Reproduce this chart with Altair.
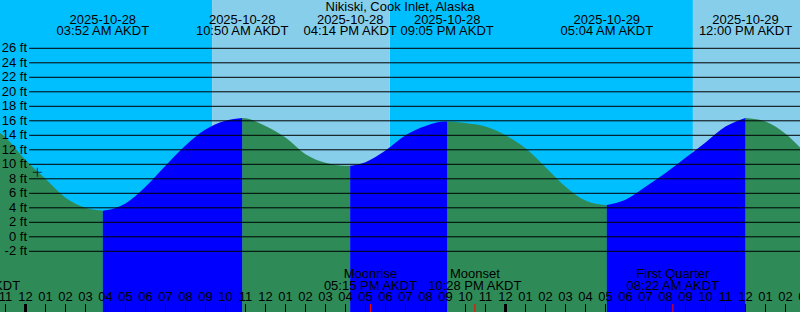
import altair as alt
import pandas as pd

W, H = 800, 312
FONT = "Liberation Sans"
FS = 13

TITLE = "Nikiski, Cook Inlet, Alaska"

# Time axis: hours from 2025-10-28 00:00 AKDT
X_DOMAIN = [-1.275, 38.725]
Y_DOMAIN = [-10.372, 32.662]   # feet

# Sky (sunrise / sunset, hours)
night_start = [-5.0, 18.22]
night_end = [9.33, 33.37]
day_start = [9.33, 33.37]
day_end = [18.22, 45.0]

# Tide curve (hours, feet)
tide_hours = [-2, -1, 0, 1, 2, 3, 3.867, 4, 5, 6, 7, 8, 9, 10, 10.833,
              11, 12, 13, 14, 15, 16, 16.233, 17, 18, 19, 20, 21, 21.083,
              22, 23, 24, 25, 26, 27, 28, 29, 29.067, 30, 31, 32, 33, 34,
              35, 36, 37, 38, 39]
tide_feet = [15.5, 13.7, 10.6, 8.0, 5.4, 4.0, 3.6, 3.65, 4.6, 6.9, 9.8, 12.6,
             14.8, 16.0, 16.4, 16.35, 15.3, 13.7, 11.4, 10.2, 9.8, 9.8, 10.3,
             11.9, 14.0, 15.3, 15.9, 15.9, 15.7, 15.2, 14.0, 12.2, 9.6, 6.9,
             5.0, 4.4, 4.4, 5.1, 6.9, 8.8, 10.9, 13.0, 15.2, 16.4, 15.9, 14.2,
             11.5]

# Tide events (high / low)
event_hours = [3.867, 10.833, 16.233, 21.083, 29.067, 36.0]
event_dates = ["2025-10-28", "2025-10-28", "2025-10-28", "2025-10-28",
               "2025-10-29", "2025-10-29"]
event_times = ["03:52 AM AKDT", "10:50 AM AKDT", "04:14 PM AKDT",
               "09:05 PM AKDT", "05:04 AM AKDT", "12:00 PM AKDT"]

# Moon events
moon_hours = [-2.6, 17.25, 22.467, 32.367]
moon_names = ["Moonset", "Moonrise", "Moonset", "First Quarter"]
moon_times = ["09:24 PM AKDT", "05:15 PM AKDT", "10:28 PM AKDT", "08:22 AM AKDT"]

# Current-time marker
now_hour = [0.59]
now_feet = [8.9]

# Grid levels and hour ticks
grid_feet = list(range(-2, 27, 2))
tick_hours = list(range(-2, 41))
tick_labels = ["%02d" % ((h % 12) or 12) for h in tick_hours]
midnight_hours = [0, 24]

# ---- build tables ----
bounds = [tide_hours[0]] + event_hours + [tide_hours[-1]]
kinds = ["ebb", "flood", "ebb", "flood", "ebb", "flood", "ebb"]
rows = []
for i in range(len(bounds) - 1):
    a, b = bounds[i], bounds[i + 1]
    for h, f in zip(tide_hours, tide_feet):
        if a <= h <= b:
            rows.append({"h": h, "ft": f, "seg": i, "kind": kinds[i]})
tide = pd.DataFrame(rows)

xs = alt.Scale(domain=X_DOMAIN, nice=False, zero=False)
ys = alt.Scale(domain=Y_DOMAIN, nice=False, zero=False)
X = lambda f: alt.X(f, scale=xs, axis=None)
Y = lambda f: alt.Y(f, scale=ys, axis=None)

night = alt.Chart(pd.DataFrame({"a": night_start, "b": night_end})).mark_rect(
    color="#00BFFF", clip=True).encode(x=X("a:Q"), x2="b:Q", y=alt.value(0), y2=alt.value(H))
day = alt.Chart(pd.DataFrame({"a": day_start, "b": day_end})).mark_rect(
    color="#87CEEB", clip=True).encode(x=X("a:Q"), x2="b:Q", y=alt.value(0), y2=alt.value(H))

ebb = alt.Chart(tide[tide.kind == "ebb"]).mark_area(
    color="#2E8B57", interpolate="monotone", clip=True).encode(
    x=X("h:Q"), y=alt.Y("ft:Q", scale=ys, axis=None, stack=None),
    y2=alt.value(H), detail="seg:N")
flood = alt.Chart(tide[tide.kind == "flood"]).mark_area(
    color="#0000FF", interpolate="monotone", clip=True).encode(
    x=X("h:Q"), y=alt.Y("ft:Q", scale=ys, axis=None, stack=None),
    y2=alt.value(H), detail="seg:N")

gdf = pd.DataFrame({"ft": grid_feet, "lab": [f"{v} ft" for v in grid_feet]})
grid = alt.Chart(gdf).mark_rule(color="black", strokeWidth=1).encode(
    y=Y("ft:Q"), x=alt.value(29), x2=alt.value(W))
grid_lab = alt.Chart(gdf).mark_text(
    align="right", baseline="middle", font=FONT, fontSize=FS, color="black").encode(
    y=Y("ft:Q"), x=alt.value(27), text="lab:N")

ev = pd.DataFrame({"h": event_hours, "d": event_dates, "t": event_times})
ev_d = alt.Chart(ev).mark_text(baseline="middle", font=FONT, fontSize=FS, color="black").encode(
    x=X("h:Q"), y=alt.value(19.5), text="d:N")
ev_t = alt.Chart(ev).mark_text(baseline="middle", font=FONT, fontSize=FS, color="black").encode(
    x=X("h:Q"), y=alt.value(31.3), text="t:N")

title = alt.Chart(pd.DataFrame({"t": [TITLE]})).mark_text(
    baseline="middle", font=FONT, fontSize=FS, color="black").encode(
    x=alt.value(W / 2), y=alt.value(7), text="t:N")

mn = pd.DataFrame({"h": moon_hours, "n": moon_names, "t": moon_times})
mn_n = alt.Chart(mn).mark_text(baseline="middle", font=FONT, fontSize=FS, color="black").encode(
    x=X("h:Q"), y=alt.value(274), text="n:N")
mn_t = alt.Chart(mn).mark_text(baseline="middle", font=FONT, fontSize=FS, color="black").encode(
    x=X("h:Q"), y=alt.value(286), text="t:N")
mn_tick = alt.Chart(mn).mark_rule(color="red", strokeWidth=1).encode(
    x=X("h:Q"), y=alt.value(304), y2=alt.value(H))

tk = pd.DataFrame({"h": tick_hours, "lab": tick_labels})
ticks = alt.Chart(tk).mark_rule(color="black", strokeWidth=1).encode(
    x=X("h:Q"), y=alt.value(304), y2=alt.value(H))
mid_ticks = alt.Chart(pd.DataFrame({"h": midnight_hours})).mark_rule(
    color="black", strokeWidth=3).encode(x=X("h:Q"), y=alt.value(304), y2=alt.value(H))
tick_lab = alt.Chart(tk).mark_text(baseline="middle", font=FONT, fontSize=FS, color="black").encode(
    x=X("h:Q"), y=alt.value(297), text="lab:N")

now = alt.Chart(pd.DataFrame({"h": now_hour, "ft": now_feet})).mark_point(
    shape="M-1,0H1M0,-1V1", size=81, stroke="black", strokeWidth=1, filled=False).encode(
    x=X("h:Q"), y=Y("ft:Q"))

chart = alt.layer(
    night, day, ebb, flood, grid, grid_lab, ev_d, ev_t, title,
    mn_n, mn_t, ticks, mid_ticks, mn_tick, tick_lab, now
).properties(
    width=W, height=H, padding=0, autosize=alt.AutoSizeParams(type="none")
).configure_view(stroke=None)

chart.save("out.html", embed_options={"renderer": "svg", "actions": False})
